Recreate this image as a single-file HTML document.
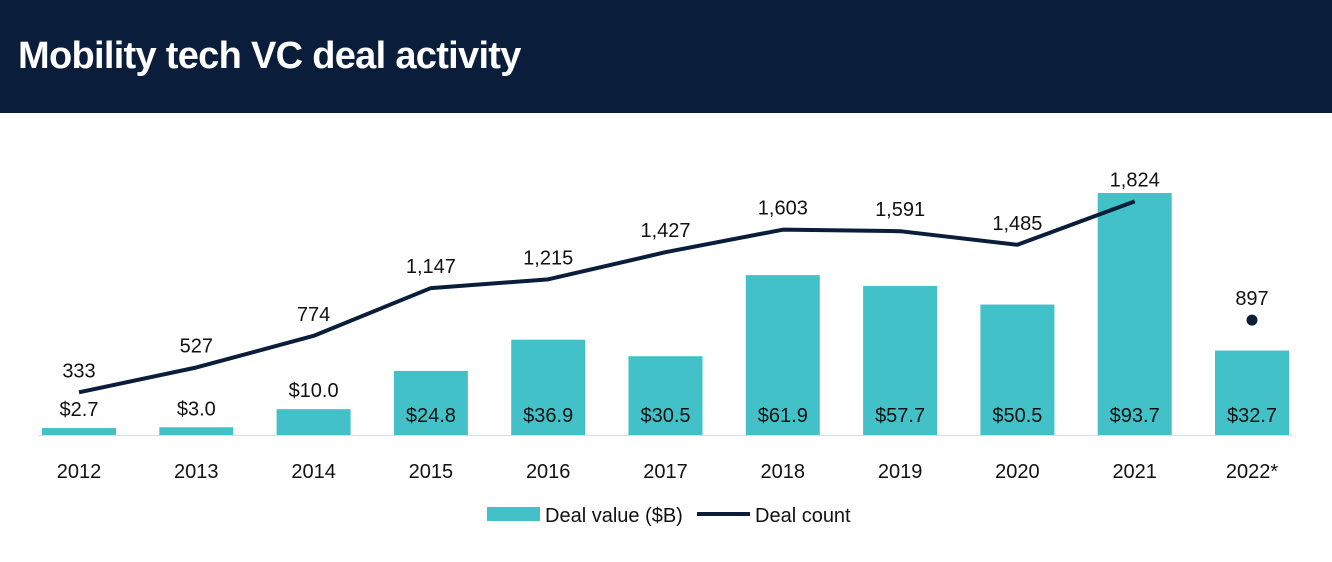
<!DOCTYPE html>
<html><head><meta charset="utf-8"><style>
body{margin:0;width:1332px;height:562px;background:#fff;overflow:hidden;font-family:"Liberation Sans Narrow","Liberation Sans",sans-serif}
#hdr{position:absolute;left:0;top:0;width:1332px;height:113px;background:#0a1e3b}
#hdr h1{margin:0;position:absolute;left:18px;top:35px;color:#fff;font:bold 38px "Liberation Sans",sans-serif;letter-spacing:-0.7px}
svg{position:absolute;left:0;top:0}
</style></head><body>
<div id="hdr"><h1>Mobility tech VC deal activity</h1></div>
<svg id="c" width="1332" height="562"></svg>
<script>
const years=["2012","2013","2014","2015","2016","2017","2018","2019","2020","2021","2022*"];
const values=[2.7,3.0,10.0,24.8,36.9,30.5,61.9,57.7,50.5,93.7,32.7];
const valueLabels=["$2.7","$3.0","$10.0","$24.8","$36.9","$30.5","$61.9","$57.7","$50.5","$93.7","$32.7"];
const counts=[333,527,774,1147,1215,1427,1603,1591,1485,1824,897];
const countLabels=["333","527","774","1,147","1,215","1,427","1,603","1,591","1,485","1,824","897"];
const NS="http://www.w3.org/2000/svg",svg=document.getElementById('c');
const base=435;
const x=i=>79+i*117.3;
const yv=v=>base-v*2.583;
const yc=c=>base-c*0.1281;
function mk(t,a,p){const e=document.createElementNS(NS,t);for(const k in a)e.setAttribute(k,a[k]);(p||svg).appendChild(e);return e;}
function txt(s,xx,yy){const t=mk('text',{x:xx,y:yy,'text-anchor':'middle','font-size':20,fill:'#111'});t.textContent=s;return t;}
mk('line',{x1:38,x2:1292,y1:base+0.5,y2:base+0.5,stroke:'#ddd','stroke-width':1});
values.forEach((v,i)=>{
 const b=mk('rect',{x:x(i)-37,y:yv(v),width:74,height:base-yv(v),fill:'#42c2c8'});
 
 
 const h=base-yv(v);
 const ly=h>40?422:Math.min(yv(v)-12,421);
 const l=txt(valueLabels[i],x(i),ly);
 
 
 const yl=txt(years[i],x(i),478);
 
 
});
let d='';
for(let i=0;i<10;i++)d+=(i?'L':'M')+x(i)+','+yc(counts[i]);
const ln=mk('path',{d:d,fill:'none',stroke:'#0a1e3b','stroke-width':4,'stroke-linejoin':'round'});


const dot=mk('circle',{cx:x(10),cy:yc(counts[10]),r:5.5,fill:'#0a1e3b'});


counts.forEach((c,i)=>{
 const t=txt(countLabels[i],x(i),yc(c)-15);
 
 
});
const lg=mk('g',{});


mk('rect',{x:487,y:507,width:53,height:14,fill:'#42c2c8'},lg);
let t1=mk('text',{x:545,y:522,'font-size':20,fill:'#111'},lg);t1.textContent='Deal value ($B)';
mk('line',{x1:697,x2:750,y1:514,y2:514,stroke:'#0a1e3b','stroke-width':4},lg);
let t2=mk('text',{x:755,y:522,'font-size':20,fill:'#111'},lg);t2.textContent='Deal count';
</script>
</body></html>
